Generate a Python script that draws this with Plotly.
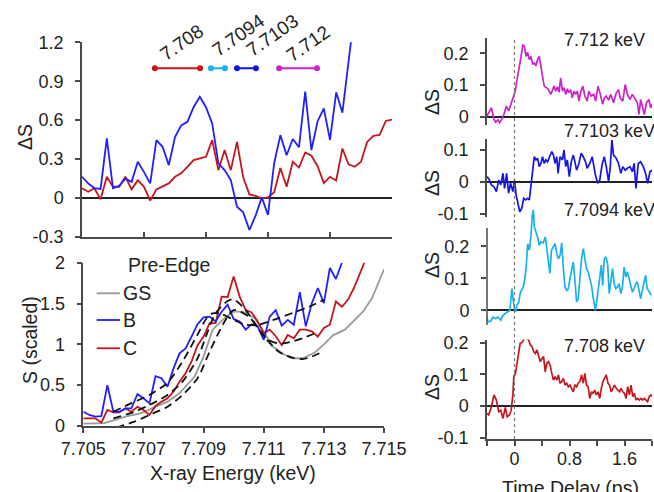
import plotly.graph_objects as go

W, H = 654, 492
FONT = "Liberation Sans, Arial, sans-serif"
TXT = "#222222"
AX = "#4a4a4a"

# ---------------- energy-resolved difference signal (top left) ----------------
E_TOP_B = [7.7050, 7.7052, 7.7054, 7.7056, 7.7058, 7.7060, 7.7062, 7.7064, 7.7066, 7.7068,
           7.7070, 7.7072, 7.7074, 7.7076, 7.7078, 7.7080, 7.7082, 7.7084, 7.7086, 7.7088,
           7.7090, 7.7092, 7.7094, 7.7096, 7.7098, 7.7100, 7.7102, 7.7104, 7.7106, 7.7108,
           7.7110, 7.7112, 7.7114, 7.7116, 7.7118, 7.7120, 7.7122, 7.7124, 7.7126, 7.7128,
           7.7130, 7.7132, 7.7134, 7.7136, 7.7138]
DS_B = [0.164, 0.113, 0.077, 0.070, 0.460, 0.075, 0.095, 0.150, 0.125, 0.280,
        0.200, 0.113, 0.446, 0.395, 0.254, 0.470, 0.560, 0.587, 0.700, 0.780,
        0.700, 0.575, 0.267, 0.215, 0.138, -0.067, -0.110, -0.246, -0.135, 0.005,
        -0.130, 0.270, 0.485, 0.330, 0.455, 0.392, 0.820, 0.370, 0.592, 0.690,
        0.448, 0.815, 0.658, 1.075, 1.450]

E_TOP_C = [7.7050, 7.7052, 7.7054, 7.7056, 7.7058, 7.7060, 7.7062, 7.7064, 7.7066, 7.7068,
           7.7070, 7.7072, 7.7074, 7.7076, 7.7078, 7.7080, 7.7082, 7.7084, 7.7086, 7.7088,
           7.7090, 7.7092, 7.7094, 7.7096, 7.7098, 7.7100, 7.7102, 7.7104, 7.7106, 7.7108,
           7.7110, 7.7112, 7.7114, 7.7116, 7.7118, 7.7120, 7.7122, 7.7124, 7.7126, 7.7128,
           7.7130, 7.7132, 7.7134, 7.7136, 7.7138, 7.7140, 7.7142, 7.7144, 7.7146, 7.7148,
           7.7150]
DS_C = [0.075, 0.049, 0.075, -0.010, 0.164, 0.087, 0.087, 0.164, 0.067, 0.138,
        0.087, -0.020, 0.067, 0.087, 0.113, 0.164, 0.190, 0.241, 0.292, 0.305,
        0.318, 0.446, 0.215, 0.370, 0.215, 0.433, 0.160, 0.028, 0.016, -0.002,
        0.005, 0.045, 0.232, 0.087, 0.280, 0.235, 0.351, 0.326, 0.245, 0.115,
        0.164, 0.135, 0.382, 0.260, 0.241, 0.280, 0.433, 0.480, 0.487, 0.594,
        0.605]

# probe energy windows (keV)
WIN_LABELS = ["7.708", "7.7094", "7.7103", "7.712"]
WIN_LO = [7.70735, 7.70916, 7.71000, 7.71136]
WIN_HI = [7.70881, 7.70961, 7.71061, 7.71258]
WIN_LEVEL = 1.0
WIN_COLORS = ["#c4161c", "#1ab0ee", "#1414e6", "#cc22cc"]

# ---------------- scaled spectra (bottom left) ----------------
E_B = E_TOP_B[:44]
S_B = [0.175, 0.135, 0.114, 0.120, 0.500, 0.175, 0.175, 0.216, 0.216, 0.390,
       0.340, 0.277, 0.610, 0.585, 0.480, 0.706, 0.890, 0.950, 1.095, 1.247,
       1.330, 1.340, 1.280, 1.400, 1.485, 1.310, 1.280, 1.180, 1.247, 1.220,
       1.055, 1.340, 1.420, 1.230, 1.300, 1.240, 1.640, 1.220, 1.505, 1.690,
       1.505, 1.935, 1.800, 2.000]

E_C = E_TOP_C[:48]
S_C = [0.094, 0.094, 0.094, 0.040, 0.196, 0.166, 0.166, 0.216, 0.175, 0.236,
       0.196, 0.135, 0.245, 0.298, 0.340, 0.420, 0.543, 0.646, 0.790, 0.990,
       1.095, 1.260, 1.260, 1.585, 1.580, 1.830, 1.585, 1.420, 1.390, 1.280,
       1.135, 1.180, 1.100, 0.990, 1.115, 1.075, 1.180, 1.180, 1.160, 1.095,
       1.200, 1.240, 1.525, 1.460, 1.545, 1.690, 1.870, 2.050]

E_GS = [7.7050, 7.7053, 7.7057, 7.7060, 7.7064, 7.7069, 7.7073, 7.7078, 7.7082, 7.7087,
        7.7090, 7.7093, 7.7097, 7.7100, 7.7103, 7.7107, 7.7110, 7.7113, 7.7117, 7.7120,
        7.7123, 7.7127, 7.7130, 7.7133, 7.7137, 7.7140, 7.7143, 7.7146, 7.7150]
S_GS = [0.030, 0.030, 0.035, 0.070, 0.114, 0.155, 0.216, 0.298, 0.400, 0.605,
        0.850, 1.180, 1.320, 1.400, 1.400, 1.320, 1.157, 0.973, 0.870, 0.830,
        0.830, 0.900, 1.000, 1.110, 1.180, 1.290, 1.400, 1.565, 1.920]

# pre-edge model curves
FIT_B_E = [7.7060, 7.7066, 7.7072, 7.7078, 7.7083, 7.7088, 7.7091, 7.7093, 7.7096, 7.7100,
           7.7104, 7.7108, 7.7114, 7.7120, 7.7125, 7.7130]
FIT_B_S = [0.175, 0.280, 0.380, 0.530, 0.790, 1.120, 1.320, 1.380, 1.370, 1.300,
           1.240, 1.240, 1.310, 1.390, 1.460, 1.545]
FIT_C_E = [7.7060, 7.7067, 7.7072, 7.7078, 7.7083, 7.7088, 7.7091, 7.7094, 7.7098, 7.7100,
           7.7104, 7.7107, 7.7111, 7.7115, 7.7120, 7.7124, 7.7128]
FIT_C_S = [0.094, 0.175, 0.258, 0.380, 0.543, 0.830, 1.120, 1.380, 1.530, 1.550,
           1.420, 1.260, 1.070, 1.010, 1.040, 1.090, 1.150]
FIT_GS_E = [7.7061, 7.7067, 7.7072, 7.7078, 7.7083, 7.7088, 7.7092, 7.7097, 7.7100, 7.7105,
            7.7110, 7.7115, 7.7120, 7.7123, 7.7126, 7.7129]
FIT_GS_S = [-0.020, 0.053, 0.135, 0.237, 0.380, 0.585, 0.910, 1.280, 1.420, 1.340,
            1.100, 0.910, 0.830, 0.820, 0.850, 0.900]

# ---------------- kinetics (right column) ----------------
T_7712 = [-0.41, -0.375, -0.336, -0.30, -0.274, -0.24, -0.216, -0.18, -0.154, -0.12,
          -0.086, -0.058, -0.024, 0.01, 0.038, 0.072, 0.096, 0.12, 0.144, 0.168,
          0.192, 0.216, 0.24, 0.264, 0.288, 0.312, 0.336, 0.36, 0.384, 0.408,
          0.432, 0.466, 0.495, 0.528, 0.552, 0.576, 0.60, 0.624, 0.648, 0.672,
          0.697, 0.72, 0.745, 0.768, 0.79, 0.817, 0.84, 0.865, 0.889, 0.913,
          0.937, 0.96, 0.994, 1.023, 1.057, 1.08, 1.114, 1.153, 1.18, 1.215,
          1.249, 1.282, 1.306, 1.335, 1.369, 1.40, 1.44, 1.48, 1.513, 1.537,
          1.575, 1.61, 1.643, 1.68, 1.715, 1.753, 1.787, 1.81, 1.835, 1.864,
          1.888, 1.92, 1.955, 1.98, 2.0]
DS_7712 = [0.0, 0.016, 0.029, -0.007, -0.016, -0.009, -0.018, -0.005, 0.008, 0.034,
           0.019, 0.036, 0.060, 0.081, 0.118, 0.154, 0.190, 0.227, 0.222, 0.190,
           0.203, 0.180, 0.190, 0.165, 0.170, 0.161, 0.180, 0.190, 0.154, 0.118,
           0.097, 0.092, 0.086, 0.071, 0.086, 0.097, 0.081, 0.095, 0.078, 0.123,
           0.081, 0.092, 0.071, 0.089, 0.076, 0.086, 0.060, 0.081, 0.071, 0.081,
           0.050, 0.076, 0.097, 0.066, 0.050, 0.081, 0.066, 0.071, 0.050, 0.097,
           0.071, 0.040, 0.060, 0.066, 0.053, 0.071, 0.045, 0.076, 0.086, 0.060,
           0.050, 0.102, 0.071, 0.055, 0.071, 0.055, 0.045, 0.008, 0.055, 0.029,
           0.008, 0.045, 0.055, 0.029, 0.040]

T_77103 = [-0.41, -0.375, -0.336, -0.298, -0.264, -0.23, -0.20, -0.168, -0.144, -0.115,
           -0.086, -0.058, -0.024, 0.0, 0.024, 0.048, 0.077, 0.106, 0.134, 0.163,
           0.192, 0.216, 0.24, 0.264, 0.288, 0.312, 0.336, 0.36, 0.384, 0.408,
           0.432, 0.456, 0.48, 0.51, 0.543, 0.567, 0.59, 0.615, 0.634, 0.663,
           0.697, 0.72, 0.745, 0.768, 0.797, 0.826, 0.855, 0.879, 0.903, 0.937,
           0.97, 1.0, 1.033, 1.057, 1.095, 1.13, 1.153, 1.177, 1.21, 1.24,
           1.273, 1.306, 1.335, 1.369, 1.393, 1.417, 1.44, 1.48, 1.513, 1.547,
           1.575, 1.61, 1.643, 1.68, 1.715, 1.74, 1.767, 1.80, 1.835, 1.873,
           1.907, 1.936, 1.97, 2.0]
DS_77103 = [0.016, 0.010, -0.010, -0.016, -0.031, 0.005, -0.010, 0.026, -0.021, 0.026,
            -0.036, -0.005, -0.031, 0.005, -0.042, -0.062, -0.094, -0.083, -0.052, -0.057,
            -0.052, -0.057, -0.005, 0.036, 0.078, 0.068, 0.073, 0.047, 0.057, 0.078,
            0.057, 0.068, 0.062, 0.078, 0.094, 0.083, 0.057, 0.078, 0.026, 0.078,
            0.068, 0.099, 0.047, 0.068, 0.016, 0.062, 0.083, 0.062, 0.036, 0.057,
            0.089, 0.078, 0.062, 0.042, 0.057, 0.078, 0.047, 0.021, -0.005, 0.005,
            0.052, 0.078, 0.047, 0.000, 0.047, 0.130, 0.083, 0.073, 0.057, 0.026,
            0.047, 0.036, 0.042, 0.047, 0.031, 0.057, -0.021, 0.057, 0.062, 0.047,
            0.026, -0.005, 0.031, 0.036]

T_77094 = [-0.41, -0.385, -0.346, -0.312, -0.279, -0.24, -0.20, -0.168, -0.134, -0.096,
           -0.067, -0.038, -0.01, 0.014, 0.038, 0.062, 0.086, 0.12, 0.144, 0.168,
           0.192, 0.216, 0.24, 0.26, 0.274, 0.288, 0.312, 0.336, 0.36, 0.384,
           0.418, 0.447, 0.47, 0.495, 0.514, 0.538, 0.567, 0.59, 0.615, 0.639,
           0.663, 0.687, 0.711, 0.735, 0.759, 0.783, 0.807, 0.831, 0.855, 0.879,
           0.903, 0.927, 0.951, 0.975, 1.0, 1.023, 1.047, 1.071, 1.095, 1.12,
           1.143, 1.177, 1.21, 1.24, 1.263, 1.282, 1.306, 1.33, 1.354, 1.378,
           1.40, 1.426, 1.45, 1.474, 1.50, 1.52, 1.547, 1.57, 1.594, 1.62,
           1.643, 1.667, 1.69, 1.715, 1.74, 1.763, 1.787, 1.81, 1.835, 1.86,
           1.883, 1.907, 1.93, 1.96, 1.99]
DS_77094 = [-0.016, -0.036, -0.034, -0.021, -0.026, -0.021, -0.031, -0.016, -0.010, -0.005,
            0.000, 0.068, 0.016, -0.005, 0.016, 0.026, 0.057, 0.068, 0.089, 0.130,
            0.208, 0.188, 0.234, 0.300, 0.314, 0.260, 0.245, 0.229, 0.203, 0.214,
            0.211, 0.229, 0.193, 0.141, 0.115, 0.188, 0.198, 0.208, 0.177, 0.161,
            0.172, 0.211, 0.130, 0.073, 0.062, 0.068, 0.099, 0.130, 0.151, 0.094,
            0.026, 0.036, 0.109, 0.161, 0.193, 0.161, 0.130, 0.120, 0.099, 0.078,
            0.042, 0.000, 0.052, 0.109, 0.141, 0.078, 0.161, 0.167, 0.146, 0.052,
            0.083, 0.130, 0.083, 0.068, 0.073, 0.083, 0.052, 0.073, 0.135, 0.104,
            0.120, 0.099, 0.073, 0.057, 0.068, 0.083, 0.089, 0.057, 0.036, 0.062,
            0.083, 0.109, 0.068, 0.057, 0.047]

T_7708 = [-0.41, -0.375, -0.336, -0.298, -0.264, -0.23, -0.20, -0.168, -0.134, -0.106,
          -0.072, -0.048, -0.024, -0.01, 0.014, 0.038, 0.062, 0.082, 0.11, 0.144,
          0.178, 0.207, 0.23, 0.255, 0.279, 0.303, 0.327, 0.35, 0.375, 0.40,
          0.423, 0.447, 0.47, 0.495, 0.519, 0.543, 0.567, 0.59, 0.615, 0.639,
          0.663, 0.687, 0.711, 0.735, 0.759, 0.783, 0.807, 0.83, 0.855, 0.879,
          0.903, 0.927, 0.951, 0.975, 1.0, 1.023, 1.047, 1.071, 1.095, 1.12,
          1.143, 1.167, 1.19, 1.215, 1.24, 1.263, 1.287, 1.31, 1.335, 1.36,
          1.383, 1.407, 1.43, 1.455, 1.48, 1.503, 1.527, 1.55, 1.575, 1.60,
          1.623, 1.647, 1.671, 1.695, 1.72, 1.743, 1.767, 1.79, 1.815, 1.84,
          1.864, 1.888, 1.91, 1.936, 1.96, 1.984, 2.0]
DS_7708 = [-0.023, -0.028, -0.002, 0.035, 0.019, -0.018, -0.013, -0.039, -0.004, -0.034,
           -0.028, -0.013, 0.035, 0.093, 0.103, 0.135, 0.177, 0.198, 0.200, 0.214,
           0.214, 0.208, 0.193, 0.187, 0.172, 0.166, 0.177, 0.161, 0.140, 0.150,
           0.156, 0.108, 0.135, 0.140, 0.129, 0.103, 0.082, 0.093, 0.082, 0.098,
           0.072, 0.077, 0.087, 0.066, 0.072, 0.061, 0.066, 0.056, 0.045, 0.066,
           0.061, 0.072, 0.077, 0.098, 0.072, 0.103, 0.066, 0.061, 0.024, 0.045,
           0.040, 0.050, 0.035, 0.045, 0.024, 0.056, 0.077, 0.087, 0.098, 0.072,
           0.066, 0.045, 0.056, 0.066, 0.056, 0.050, 0.045, 0.056, 0.045, 0.040,
           0.024, 0.061, 0.035, 0.066, 0.030, 0.040, 0.019, 0.024, 0.019, 0.024,
           0.019, 0.024, 0.019, 0.014, 0.030, 0.035, 0.030]

PANEL_LABELS = ["7.712 keV", "7.7103 keV", "7.7094 keV", "7.708 keV"]
PANEL_COLORS = ["#cc22cc", "#1414e6", "#1ab0ee", "#c4161c"]

BLUE = "#1f1fff"
RED = "#c4161c"
GRAY = "#9a9a9a"

E_TICKS = [7.705, 7.707, 7.709, 7.711, 7.713, 7.715]
T_TICKS = [-0.4, 0, 0.4, 0.8, 1.2, 1.6, 2.0]
T_TEXT = ["", "0", "", "0.8", "", "1.6", ""]


def px(x):
    return x / W


def py(y):
    return 1 - y / H


fig = go.Figure()

# top-left: difference spectra
fig.add_trace(go.Scatter(x=E_TOP_C, y=DS_C, mode="lines", line=dict(color=RED, width=1.8),
                         xaxis="x", yaxis="y", showlegend=False))
fig.add_trace(go.Scatter(x=E_TOP_B, y=DS_B, mode="lines", line=dict(color=BLUE, width=1.8),
                         xaxis="x", yaxis="y", showlegend=False))
for lo, hi, c in zip(WIN_LO, WIN_HI, WIN_COLORS):
    fig.add_trace(go.Scatter(x=[lo, hi], y=[WIN_LEVEL, WIN_LEVEL], mode="lines+markers",
                             line=dict(color=c, width=1.8), marker=dict(color=c, size=6),
                             xaxis="x", yaxis="y", showlegend=False))

# bottom-left: spectra and model curves
fig.add_trace(go.Scatter(x=E_GS, y=S_GS, mode="lines", line=dict(color=GRAY, width=1.8),
                         xaxis="x2", yaxis="y2", showlegend=False))
fig.add_trace(go.Scatter(x=E_C, y=S_C, mode="lines", line=dict(color=RED, width=1.8),
                         xaxis="x2", yaxis="y2", showlegend=False))
fig.add_trace(go.Scatter(x=E_B, y=S_B, mode="lines", line=dict(color=BLUE, width=1.8),
                         xaxis="x2", yaxis="y2", showlegend=False))
for fe, fs in ((FIT_GS_E, FIT_GS_S), (FIT_C_E, FIT_C_S), (FIT_B_E, FIT_B_S)):
    fig.add_trace(go.Scatter(x=fe, y=fs, mode="lines",
                             line=dict(color="#111111", width=1.8, dash="8px,5px",
                                       shape="spline", smoothing=0.8),
                             xaxis="x2", yaxis="y2", showlegend=False))

# right column: kinetics
kin = [(T_7712, DS_7712), (T_77103, DS_77103), (T_77094, DS_77094), (T_7708, DS_7708)]
for i, ((t, d), c) in enumerate(zip(kin, PANEL_COLORS)):
    fig.add_trace(go.Scatter(x=t, y=d, mode="lines", line=dict(color=c, width=1.7),
                             xaxis=f"x{i + 3}", yaxis=f"y{i + 3}", showlegend=False,
                             cliponaxis=False))

tickfont = dict(family=FONT, size=18, color=TXT)
common = dict(showgrid=False, linecolor=AX, linewidth=1.5, tickcolor=AX, tickwidth=1.5,
              tickfont=tickfont, automargin=False)

layout = dict(
    template="none",
    width=W, height=H, margin=dict(l=0, r=0, t=0, b=0, pad=0), autosize=False,
    paper_bgcolor="white", plot_bgcolor="rgba(0,0,0,0)",
    font=dict(family=FONT, color=TXT),
    xaxis=dict(domain=[px(82), px(392)], range=[7.705, 7.715], anchor="y",
               tickvals=E_TICKS, showticklabels=False, ticks="inside", ticklen=5,
               showline=True, zeroline=False, **common),
    yaxis=dict(domain=[py(237), py(42.3)], range=[-0.3, 1.2], anchor="x",
               tickvals=[-0.3, 0, 0.3, 0.6, 0.9, 1.2],
               ticktext=["-0.3", "0", "0.3", "0.6", "0.9", "1.2"],
               ticks="outside", ticklen=5, showline=True, ticklabelstandoff=8,
               zeroline=True, zerolinecolor="#222222", zerolinewidth=1.5, **common),
    xaxis2=dict(domain=[px(83.3), px(384)], range=[7.705, 7.715], anchor="y2",
                tickvals=E_TICKS, ticktext=["7.705", "7.707", "7.709", "7.711", "7.713", "7.715"],
                ticks="outside", ticklen=5, showline=True, zeroline=False,
                ticklabelstandoff=1, **common),
    yaxis2=dict(domain=[py(426), py(262.7)], range=[0, 2], anchor="x2",
                tickvals=[0, 0.5, 1, 1.5, 2], ticktext=["0", "0.5", "1", "1.5", "2"],
                ticks="outside", ticklen=5, showline=True, zeroline=False,
                ticklabelstandoff=8, **common),
)

right_dom = [px(487), px(652)]
y_specs = [
    dict(domain=[py(125), py(38)], range=[-0.025, 0.248], tickvals=[0, 0.1, 0.2],
         ticktext=["0", "0.1", "0.2"], showline=True),
    dict(domain=[py(216.9), py(139.1)], range=[-0.11, 0.133], tickvals=[-0.1, 0, 0.1],
         ticktext=["-0.1", "0", "0.1"], showline=True),
    dict(domain=[py(325), py(207.9)], range=[-0.046, 0.32], tickvals=[0, 0.1, 0.2],
         ticktext=["0", "0.1", "0.2"], showline=False),
    dict(domain=[py(439), py(339.5)], range=[-0.104, 0.21], tickvals=[-0.1, 0, 0.1, 0.2],
         ticktext=["-0.1", "0", "0.1", "0.2"], showline=True),
]
for i, ys in enumerate(y_specs):
    n = i + 3
    last = (i == 3)
    layout[f"xaxis{n}"] = dict(
        domain=right_dom, range=[-0.4, 2.0], anchor=f"y{n}",
        showline=last, zeroline=False, showgrid=False, automargin=False,
        tickvals=T_TICKS, ticktext=T_TEXT, showticklabels=last,
        ticks="outside" if last else "", ticklen=5,
        linecolor=AX, linewidth=1.5, tickcolor=AX, tickwidth=1.5,
        tickfont=tickfont, ticklabelstandoff=-2)
    layout[f"yaxis{n}"] = dict(
        anchor=f"x{n}", ticks="outside", ticklen=5, ticklabelstandoff=8,
        zeroline=True, zerolinecolor="#222222", zerolinewidth=1.5, **ys, **common)

fig.update_layout(**layout)

shapes = []
# axis spine for the 7.7094 keV panel (trace overshoots above the spine)
shapes.append(dict(type="line", xref="x5 domain", x0=0, x1=0, yref="y5", y0=-0.046, y1=0.257,
                   line=dict(color=AX, width=1.5)))
# time-zero marker across the kinetics column
shapes.append(dict(type="line", xref="x6", x0=0, x1=0, yref="paper", y0=py(439), y1=py(38),
                   line=dict(color="#777777", width=1.2, dash="3px,3px"), layer="above"))
# legend samples
legend_items = [("GS", GRAY, 293.3), ("B", BLUE, 320), ("C", RED, 348.3)]
for name, col, yy in legend_items:
    shapes.append(dict(type="line", xref="paper", yref="paper", x0=px(96.7), x1=px(120),
                       y0=py(yy), y1=py(yy), line=dict(color=col, width=1.8)))
fig.update_layout(shapes=shapes)

ann = []
big = dict(family=FONT, size=18, color=TXT)
title_font = dict(family=FONT, size=19.5, color=TXT)
for name, col, yy in legend_items:
    ann.append(dict(text=name, xref="paper", yref="paper", x=px(121), y=py(yy),
                    xanchor="left", yanchor="middle", showarrow=False, font=title_font))
ann.append(dict(text="Pre-Edge", xref="paper", yref="paper", x=px(169), y=py(265),
                xanchor="center", yanchor="middle", showarrow=False, font=title_font))

# rotated window labels
win_pos = [(181.7, 42.7), (238, 35), (272, 35), (308, 43)]
for lab, (xx, yy) in zip(WIN_LABELS, win_pos):
    ann.append(dict(text=lab, xref="paper", yref="paper", x=px(xx), y=py(yy),
                    xanchor="center", yanchor="middle", textangle=-35, showarrow=False,
                    font=dict(family=FONT, size=19, color=TXT)))

# panel energy labels
for lab, yy in zip(PANEL_LABELS, [40, 131, 210, 346]):
    ann.append(dict(text=lab, xref="paper", yref="paper", x=px(562), y=py(yy),
                    xanchor="left", yanchor="middle", showarrow=False, font=big))

# axis titles
ann.append(dict(text="ΔS", xref="paper", yref="paper", x=px(25), y=py(137),
                xanchor="center", yanchor="middle",
                textangle=-90, showarrow=False, font=title_font))
ann.append(dict(text="S (scaled)", xref="paper", yref="paper", x=px(30), y=py(340),
                xanchor="center", yanchor="middle",
                textangle=-90, showarrow=False, font=title_font))
ann.append(dict(text="X-ray Energy (keV)", xref="paper", yref="paper", x=px(233), y=py(473),
                xanchor="center", yanchor="middle", showarrow=False, font=title_font))
for yy in [102, 183, 265, 387]:
    ann.append(dict(text="ΔS", xref="paper", yref="paper", x=px(432), y=py(yy),
                    xanchor="center", yanchor="middle",
                    textangle=-90, showarrow=False, font=title_font))
ann.append(dict(text="Time Delay (ps)", xref="paper", yref="paper", x=px(570), y=py(475),
                xanchor="center", yanchor="top", showarrow=False, font=title_font))
fig.update_layout(annotations=ann)

fig.write_html("out.html")
